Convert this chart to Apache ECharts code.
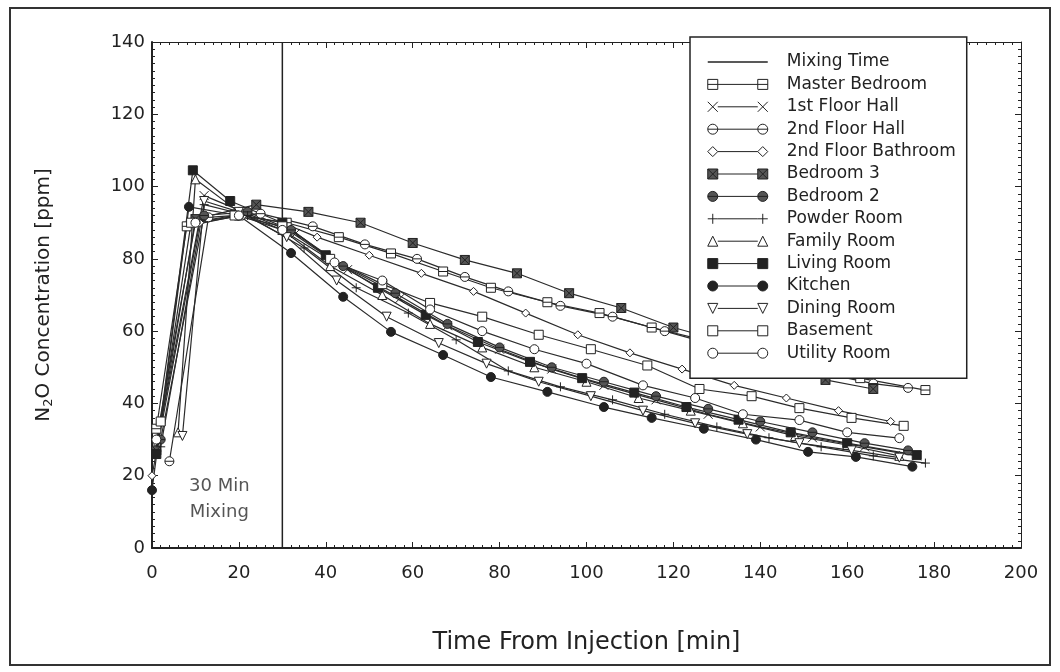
<!DOCTYPE html>
<html>
<head>
<meta charset="utf-8">
<script src="https://cdn.jsdelivr.net/npm/echarts@6/dist/echarts.min.js"></script>
<style>
  html, body { margin: 0; padding: 0; background: #fff; }
  #chart { width: 1060px; height: 672px; }
</style>
</head>
<body>
<div id="chart"></div>
<script>
// === 数据：每个房间 [时间 min, N2O 浓度 ppm] ===
const masterBedroom = [[1,33],[8,89],[20,92],[31,90],[43,86],[55,81.5],[67,76.5],[78,72],[91,68],[103,65],[115,61],[127,57.5],[139,54],[151,50.5],[163,47],[178,43.7]]
const firstFloorHall = [[1,28],[12,97.5],[22,92.5],[33,87],[45,77],[57,69],[68,61.5],[80,55],[92,49.5],[104,45],[116,41],[128,37],[140,33.5],[152,30.5],[164,28],[176,25.5]]
const secondFloorHall = [[4,24],[13,91.5],[25,92.5],[37,89],[49,84],[61,80],[72,75],[82,71],[94,67],[106,64],[118,60],[130,56],[142,52],[154,48.5],[166,45.5],[174,44.3]]
const secondFloorBath = [[0,20],[11,90],[21,92],[30,90],[38,86],[50,81],[62,76],[74,71],[86,65],[98,59],[110,54],[122,49.5],[134,45],[146,41.5],[158,38],[170,35]]
const bedroom3 = [[1,27],[10,91],[24,95],[36,93],[48,90],[60,84.4],[72,79.7],[84,76],[96,70.5],[108,66.4],[120,61],[132,57],[143,51],[155,46.5],[166,44]]
const bedroom2 = [[2,30],[12,92],[22,93],[32,88],[44,78],[56,70.5],[68,62],[80,55.5],[92,50],[104,46],[116,42],[128,38.5],[140,35],[152,32],[164,29],[174,27]]
const powderRoom = [[2,28],[12,95],[22,92],[35,83],[47,72],[59,65],[70,57.6],[82,49],[94,44.6],[106,41],[118,37],[130,33.5],[142,30.5],[154,28],[166,25.5],[178,23.5]]
const familyRoom = [[6,32],[10,102],[20,93],[30,88],[41,78],[53,70],[64,62],[76,55.5],[88,50],[100,46],[112,41.5],[124,38],[136,34.5],[148,31],[160,28.5],[172,25.5]]
const livingRoom = [[1,26],[9.4,104.5],[18,96],[30,90],[40,81],[52,72],[63,64.5],[75,57],[87,51.5],[99,47],[111,43],[123,39],[135,35.5],[147,32],[160,29],[176,25.7]]
const kitchen = [[0,16],[8.5,94.4],[20,92],[32,81.6],[44,69.5],[55,59.8],[67,53.4],[78,47.3],[91,43.2],[104,39],[115,36],[127,33],[139,30],[151,26.6],[162,25.2],[175,22.5]]
const diningRoom = [[7,31],[12,96],[20,93],[31,86],[42.5,74],[54,64],[66,56.7],[77,51],[89,46],[101,42],[113,38],[125,34.5],[137,31.5],[149,29],[161,27],[172,25]]
const basement = [[2,35],[9,90],[19,92],[30,89],[41,80],[53,73],[64,67.8],[76,64],[89,59],[101,55],[114,50.5],[126,44],[138,42],[149,38.7],[161,36],[173,33.8]]
const utilityRoom = [[1,30],[10,90],[20,92],[30,88],[42,79],[53,74],[64,66],[76,60],[88,55],[100,51],[113,45],[125,41.5],[136,37],[149,35.4],[160,32],[172,30.4]]
const mixingTime = [[30, 0], [30, 140]]

// 坐标轴范围 [min, max, interval]
const xRange = [0, 200, 20]
const yRange = [0, 140, 20]

const font = 'DejaVu Sans, Verdana, sans-serif'

// === 标记形状 (path 字符串) ===
const sq = (x, y, s) => `M${x},${y}H${x + s}V${y + s}H${x}Z`
const circ = (x, y, s) => {
  const r = s / 2
  return `M${x},${y + r}A${r},${r} 0 1 1 ${x + s},${y + r}A${r},${r} 0 1 1 ${x},${y + r}Z`
}
const shapes = {
  sqLine: (x, y, s) => sq(x, y, s) + `M${x},${y + s / 2}H${x + s}`,
  cross: (x, y, s) => `M${x},${y}L${x + s},${y + s}M${x + s},${y}L${x},${y + s}`,
  circLine: (x, y, s) => circ(x, y, s) + `M${x},${y + s / 2}H${x + s}`,
  diamond: (x, y, s) => `M${x + s / 2},${y}L${x + s},${y + s / 2}L${x + s / 2},${y + s}L${x},${y + s / 2}Z`,
  sqX: (x, y, s) => sq(x, y, s) + `M${x},${y}L${x + s},${y + s}M${x + s},${y}L${x},${y + s}`,
  plus: (x, y, s) => `M${x + s / 2},${y}V${y + s}M${x},${y + s / 2}H${x + s}`,
  tri: (x, y, s) => `M${x + s / 2},${y}L${x + s},${y + s}L${x},${y + s}Z`,
  triDown: (x, y, s) => `M${x},${y}L${x + s},${y}L${x + s / 2},${y + s}Z`,
  square: (x, y, s) => sq(x, y, s),
  circle: (x, y, s) => circ(x, y, s)
}

const rooms = [
  { name: 'Master Bedroom', data: masterBedroom, shape: 'sqLine', fill: '#fff' },
  { name: '1st Floor Hall', data: firstFloorHall, shape: 'cross', fill: '#fff' },
  { name: '2nd Floor Hall', data: secondFloorHall, shape: 'circLine', fill: '#fff' },
  { name: '2nd Floor Bathroom', data: secondFloorBath, shape: 'diamond', fill: '#fff', size: 8 },
  { name: 'Bedroom 3', data: bedroom3, shape: 'sqX', fill: '#555' },
  { name: 'Bedroom 2', data: bedroom2, shape: 'circLine', fill: '#555' },
  { name: 'Powder Room', data: powderRoom, shape: 'plus', fill: '#fff' },
  { name: 'Family Room', data: familyRoom, shape: 'tri', fill: '#fff' },
  { name: 'Living Room', data: livingRoom, shape: 'square', fill: '#222' },
  { name: 'Kitchen', data: kitchen, shape: 'circle', fill: '#222' },
  { name: 'Dining Room', data: diningRoom, shape: 'triDown', fill: '#fff' },
  { name: 'Basement', data: basement, shape: 'square', fill: '#fff' },
  { name: 'Utility Room', data: utilityRoom, shape: 'circle', fill: '#fff' }
]

const chart = echarts.init(document.getElementById('chart'))

const tickCommon = (showLabel, margin) => ({
  axisLine: { show: true, onZero: false, lineStyle: { color: '#222', width: showLabel ? 2 : 1 } },
  axisTick: { show: true, inside: true, length: 6, lineStyle: { color: '#222', width: 1 } },
  minorTick: { show: true, splitNumber: 10, length: 3, lineStyle: { color: '#222', width: 1 } },
  splitLine: { show: false },
  axisLabel: { show: showLabel, color: '#222', fontSize: 18, fontFamily: font, margin: margin || 8 }
})

const series = rooms.map(r => ({
  name: r.name,
  type: 'line',
  data: r.data,
  symbol: 'path://' + shapes[r.shape](0, 0, 10),
  symbolSize: r.size || 9,
  lineStyle: { color: '#2b2b2b', width: 1.2 },
  itemStyle: { color: r.fill, borderColor: '#222', borderWidth: 1 },
  emphasis: { disabled: true },
  z: 3
}))

series.unshift({
  name: 'Mixing Time',
  type: 'line',
  data: mixingTime,
  symbol: 'none',
  lineStyle: { color: '#222', width: 1.5 },
  emphasis: { disabled: true },
  z: 2
})

const legendData = [
  { name: 'Mixing Time', icon: 'path://M0,0M0,5H60M60,10', itemStyle: { color: '#222', borderColor: '#222', borderWidth: 1.5 } }
].concat(rooms.map(r => ({
  name: r.name,
  icon: 'path://' + shapes[r.shape](0, 0, 10) + 'M10,5H50' + shapes[r.shape](50, 0, 10),
  itemStyle: { color: r.fill, borderColor: '#222', borderWidth: 1 }
})))

chart.setOption({
  animation: false,
  backgroundColor: '#fff',
  grid: { left: 152, top: 42, right: 39, bottom: 124 },
  legend: {
    data: legendData,
    orient: 'vertical',
    left: 690,
    top: 37,
    padding: [15, 11, 15, 17],
    itemWidth: 88,
    itemHeight: 10,
    itemGap: 2.4,
    selectedMode: false,
    backgroundColor: '#fff',
    borderColor: '#222',
    borderWidth: 1.5,
    borderRadius: 0,
    textStyle: { color: '#222', fontSize: 17, fontFamily: font, lineHeight: 20 },
    z: 10
  },
  xAxis: [
    Object.assign({
      type: 'value', min: xRange[0], max: xRange[1], interval: xRange[2], position: 'bottom',
      name: 'Time From Injection [min]', nameLocation: 'middle', nameGap: 83,
      nameTextStyle: { color: '#222', fontSize: 24, fontFamily: font }
    }, tickCommon(true, 16)),
    Object.assign({
      type: 'value', min: xRange[0], max: xRange[1], interval: xRange[2], position: 'top'
    }, tickCommon(false))
  ],
  yAxis: [
    Object.assign({
      type: 'value', min: yRange[0], max: yRange[1], interval: yRange[2], position: 'left',
      name: 'N{sub|2}O Concentration [ppm]', nameLocation: 'middle', nameGap: 97, nameRotate: 90,
      nameTextStyle: {
        color: '#222', fontSize: 20, fontFamily: font,
        rich: { sub: { fontSize: 13, fontFamily: font, color: '#222', padding: [10, 0, 0, 0] } }
      }
    }, tickCommon(true, 7)),
    Object.assign({
      type: 'value', min: yRange[0], max: yRange[1], interval: yRange[2], position: 'right'
    }, tickCommon(false))
  ],
  series
})

// 外框 + “30 Min Mixing” 注释
const p = chart.convertToPixel({ xAxisIndex: 0, yAxisIndex: 0 }, [15.5, 13.5])
chart.setOption({
  graphic: [
    {
      type: 'rect', silent: true,
      shape: { x: 10, y: 8, width: 1040, height: 657 },
      style: { fill: 'none', stroke: '#333', lineWidth: 2 }
    },
    {
      type: 'text', silent: true, x: p[0], y: p[1],
      style: { text: '30 Min\nMixing', fill: '#555', font: '18px ' + font, align: 'center', verticalAlign: 'middle', lineHeight: 26 }
    }
  ]
})
</script>
</body>
</html>
